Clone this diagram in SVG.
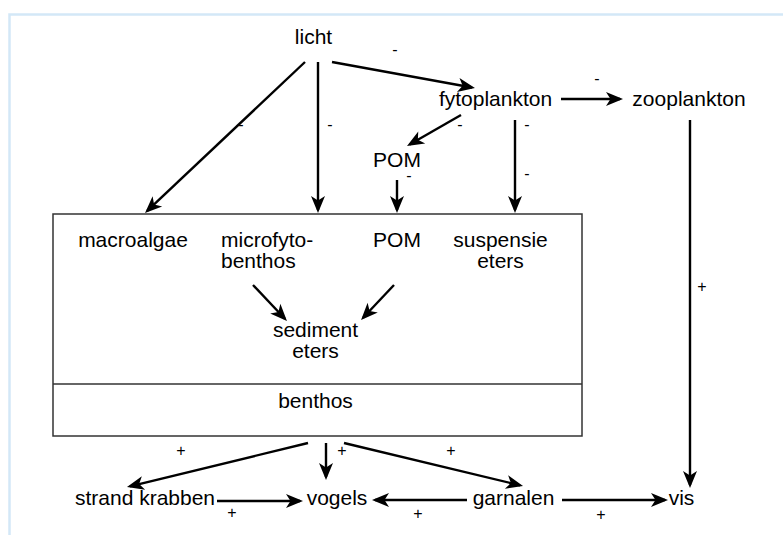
<svg xmlns="http://www.w3.org/2000/svg" width="783" height="535" viewBox="0 0 783 535">
<style>
text{font-family:"Liberation Sans",Arial,sans-serif;fill:#000}
.n{font-size:21px;text-anchor:middle}
.l{font-size:16px;text-anchor:middle}
.c line{stroke:#000;stroke-width:2.4;fill:none;marker-end:url(#a)}
</style>
<defs>
<marker id="a" markerUnits="userSpaceOnUse" markerWidth="22" markerHeight="16" viewBox="-16 -8 22 16" refX="0" refY="0" orient="auto" overflow="visible">
<path d="M-14,-7 L3,0 L-14,7 L-9.5,0 z" fill="#000"/>
</marker>
</defs>
<rect x="0" y="0" width="783" height="535" fill="#fff"/>
<rect x="9.5" y="14.5" width="800" height="600" fill="none" stroke="#d3e8f7" stroke-width="2.5"/>
<g id="benthos-box">
<rect x="53" y="214" width="529" height="222" fill="none" stroke="#333" stroke-width="1.5"/>
<line x1="53" y1="384" x2="582" y2="384" stroke="#333" stroke-width="1.5"/>
<text class="n" x="315.5" y="408">benthos</text>
</g>
<g id="licht"><text class="n" x="313.5" y="44">licht</text></g>
<g id="fytoplankton"><text class="n" x="495.5" y="106">fytoplankton</text></g>
<g id="zooplankton"><text class="n" x="689" y="106">zooplankton</text></g>
<g id="pom-water"><text class="n" x="397" y="167">POM</text></g>
<g id="macroalgae"><text class="n" x="133" y="247">macroalgae</text></g>
<g id="microfytobenthos"><text class="n" x="221" y="247" style="text-anchor:start">microfyto-</text><text class="n" x="221" y="268" style="text-anchor:start">benthos</text></g>
<g id="pom-benthos"><text class="n" x="397" y="247">POM</text></g>
<g id="suspensie-eters"><text class="n" x="500.5" y="247">suspensie</text><text class="n" x="500.5" y="268">eters</text></g>
<g id="sediment-eters"><text class="n" x="315.5" y="337">sediment</text><text class="n" x="315.5" y="358">eters</text></g>
<g id="strand-krabben"><text class="n" x="145" y="505">strand krabben</text></g>
<g id="vogels"><text class="n" x="337" y="505">vogels</text></g>
<g id="garnalen"><text class="n" x="513.5" y="505">garnalen</text></g>
<g id="vis"><text class="n" x="681.5" y="505">vis</text></g>
<g id="connectors" class="c">
<line x1="332" y1="62" x2="472" y2="87.5"/>
<line x1="305" y1="62" x2="147.2" y2="210.9"/>
<line x1="318" y1="62" x2="318" y2="210"/>
<line x1="461" y1="115" x2="409.6" y2="144.5"/>
<line x1="515" y1="120" x2="515" y2="210"/>
<line x1="397" y1="180" x2="397" y2="210"/>
<line x1="561" y1="99" x2="620" y2="99"/>
<line x1="690" y1="120" x2="690" y2="485"/>
<line x1="253" y1="285" x2="284.9" y2="318.8"/>
<line x1="394" y1="285" x2="363.1" y2="317.8"/>
<line x1="308" y1="443" x2="129.9" y2="486.3"/>
<line x1="326" y1="443" x2="326" y2="477"/>
<line x1="344" y1="443" x2="520.1" y2="485.3"/>
<line x1="217" y1="501" x2="300" y2="501"/>
<line x1="467" y1="500" x2="375" y2="500"/>
<line x1="562" y1="500" x2="665" y2="500"/>
</g>
<g id="labels">
<text class="l" x="395" y="55.3">-</text>
<text class="l" x="241" y="130">-</text>
<text class="l" x="330" y="130">-</text>
<text class="l" x="597" y="84">-</text>
<text class="l" x="460" y="130">-</text>
<text class="l" x="527" y="130">-</text>
<text class="l" x="527" y="179">-</text>
<text class="l" x="409" y="181">-</text>
<text class="l" x="702" y="291.5">+</text>
<text class="l" x="181" y="455.5">+</text>
<text class="l" x="342" y="455.5">+</text>
<text class="l" x="451" y="455.5">+</text>
<text class="l" x="232" y="517.5">+</text>
<text class="l" x="418" y="518.5">+</text>
<text class="l" x="601" y="519.5">+</text>
</g>
</svg>
